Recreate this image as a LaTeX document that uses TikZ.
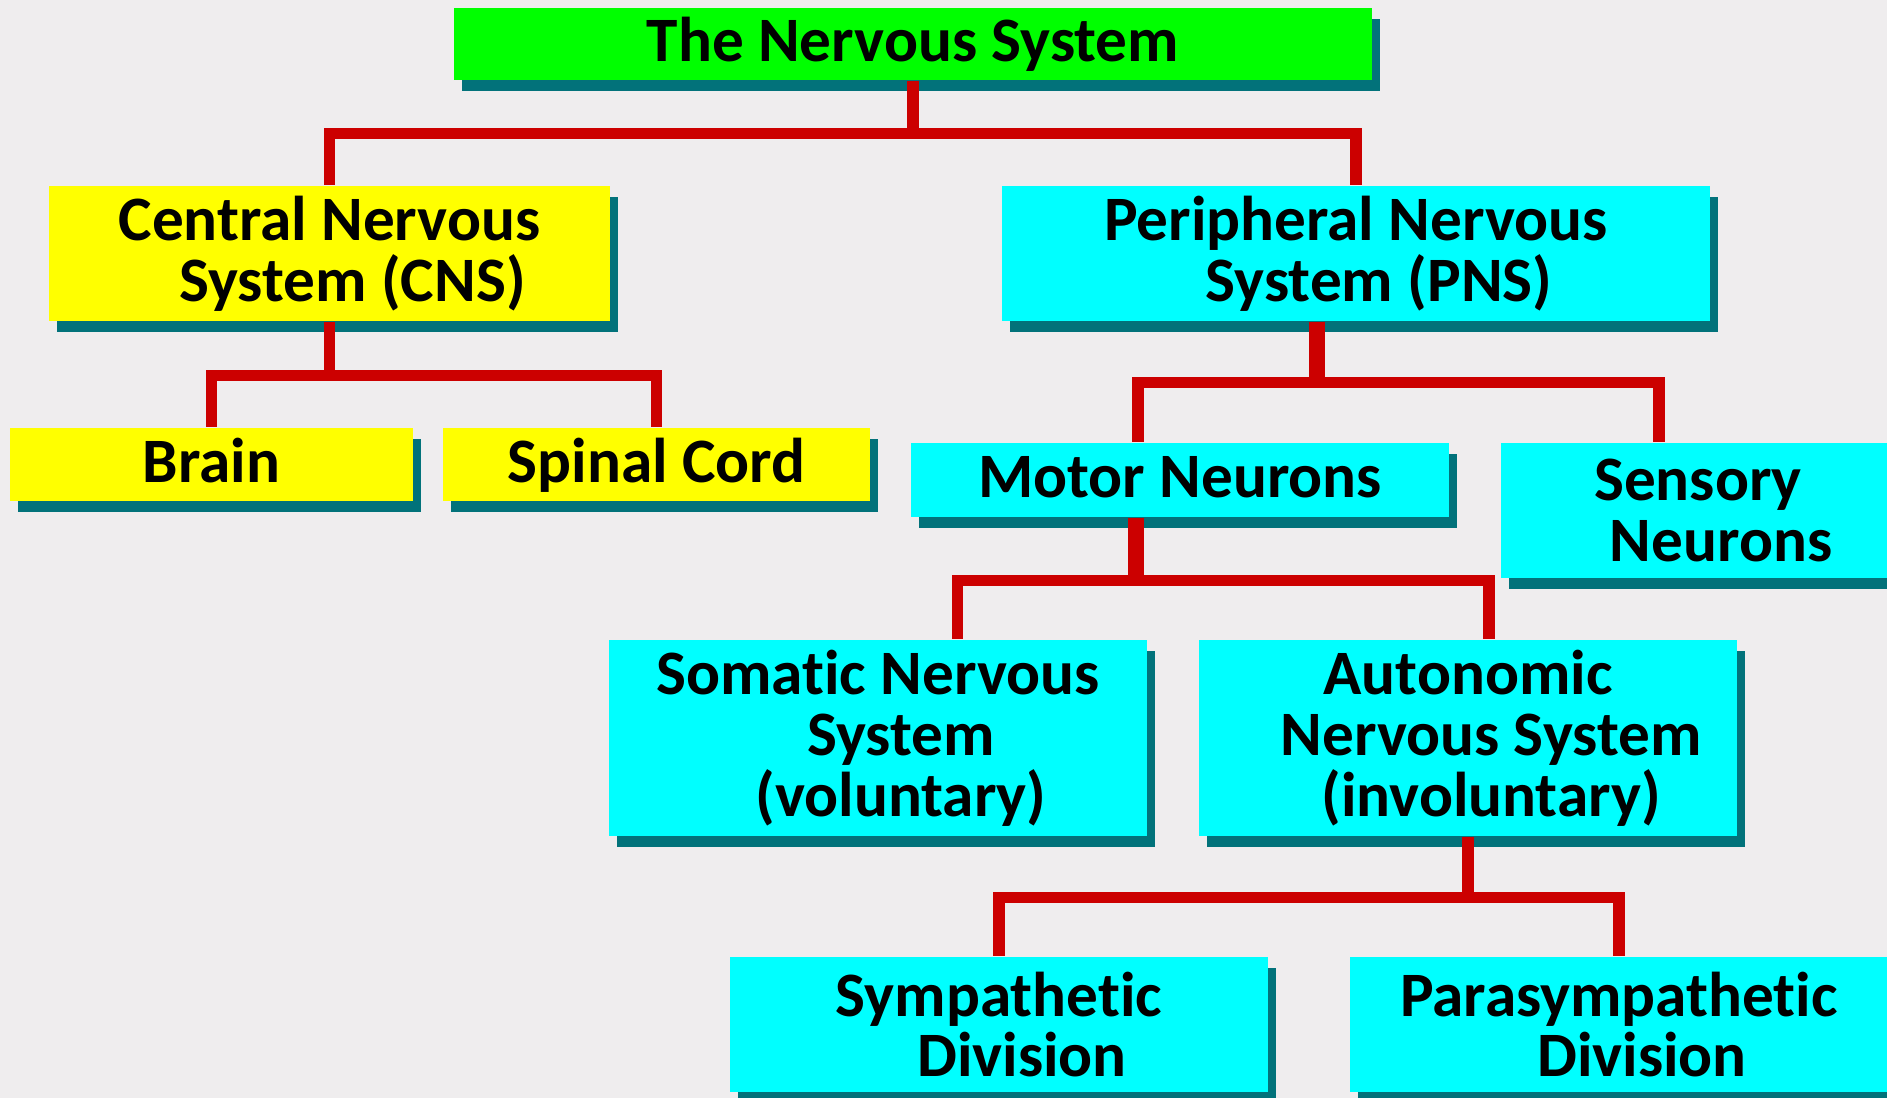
\documentclass[tikz,border=0pt]{standalone}
\usepackage{fontspec}
\setmainfont{Carlito}[Ligatures={NoCommon}]
\usepackage{xcolor}
\usepackage{tikz}
\usetikzlibrary{shadows}

\definecolor{paper}{RGB}{239,237,238}
\definecolor{topgreen}{RGB}{0,255,0}
\definecolor{cnsyellow}{RGB}{255,255,0}
\definecolor{pnscyan}{RGB}{0,255,255}
\definecolor{shadowteal}{RGB}{2,114,122}
\definecolor{linkred}{RGB}{204,0,0}

% later lines of a box sit a little to the right
\newcommand{\pushr}{\hspace*{0.46cm}}

\begin{document}
\begin{tikzpicture}[
  card/.style={
    rectangle,
    fill=#1,
    inner sep=0pt,
    align=center,
    font=\fontsize{18}{17.3}\selectfont\bfseries,
    drop shadow={shadow xshift=0.08cm, shadow yshift=-0.11cm, fill=shadowteal, opacity=1}
  },
  oneline/.style={
    text height=0.45cm,
    text depth=0.09cm
  },
  link/.style={
    draw=linkred,
    line width=0.115cm
  },
  thicklink/.style={
    draw=linkred,
    line width=0.165cm
  }
]

\useasboundingbox (0,0) rectangle (18.87,-10.98);
\fill[paper] (0,0) rectangle (18.87,-10.98);
\clip (0,0) rectangle (18.87,-10.98);

% Top
\node[card=topgreen, oneline, minimum width=9.18cm, minimum height=0.72cm] (nervous) at (9.13,-0.44) {The Nervous System};

% Second row
\node[card=cnsyellow, minimum width=5.61cm, minimum height=1.35cm] (cns) at (3.295,-2.535) {Central Nervous\\\pushr System (CNS)};
\node[card=pnscyan, minimum width=7.08cm, minimum height=1.35cm] (pns) at (13.56,-2.535) {Peripheral Nervous\\\pushr System (PNS)};

% CNS parts
\node[card=cnsyellow, oneline, minimum width=4.03cm, minimum height=0.73cm] (brain) at (2.115,-4.645) {Brain};
\node[card=cnsyellow, oneline, minimum width=4.27cm, minimum height=0.73cm] (spinal) at (6.565,-4.645) {Spinal Cord};

% PNS parts
\node[card=pnscyan, oneline, minimum width=5.38cm, minimum height=0.74cm] (motor) at (11.80,-4.80) {Motor Neurons};
\node[card=pnscyan, minimum width=3.94cm, minimum height=1.35cm] (sensory) at (16.98,-5.105) {Sensory\\\pushr Neurons};

% Motor parts
\node[card=pnscyan, minimum width=5.38cm, minimum height=1.96cm] (somatic) at (8.78,-7.38) {Somatic Nervous\\\pushr System\\\pushr (voluntary)};
\node[card=pnscyan, minimum width=5.38cm, minimum height=1.96cm] (autonomic) at (14.68,-7.38) {Autonomic\\\pushr Nervous System\\\pushr (involuntary)};

% Autonomic parts
\node[card=pnscyan, minimum width=5.38cm, minimum height=1.35cm] (sympathetic) at (9.99,-10.245) {Sympathetic\\\pushr Division};
\node[card=pnscyan, minimum width=5.38cm, minimum height=1.35cm] (parasympathetic) at (16.19,-10.245) {Parasympathetic\\\pushr Division};

% Connectors
\draw[link] (nervous.south) -- ++(0,-0.53) coordinate (j0) -| (cns.north);
\draw[link] (j0) -| (pns.north);

\draw[link] (cns.south) -- ++(0,-0.54) coordinate (j1) -| (brain.north);
\draw[link] (j1) -| (spinal.north);

\draw[thicklink] ([xshift=-0.39cm]pns.south) -- ++(0,-0.61) coordinate (j2);
\draw[link] (j2) -| ([xshift=-0.42cm]motor.north);
\draw[link] (j2) -| ([xshift=-0.39cm]sensory.north);

\draw[thicklink] ([xshift=-0.44cm]motor.south) -- ++(0,-0.63) coordinate (j3);
\draw[link] (j3) -| ([xshift=0.795cm]somatic.north);
\draw[link] (j3) -| ([xshift=0.21cm]autonomic.north);

\draw[link] (autonomic.south) -- ++(0,-0.61) coordinate (j4) -| (sympathetic.north);
\draw[link] (j4) -| (parasympathetic.north);

\end{tikzpicture}
\end{document}
